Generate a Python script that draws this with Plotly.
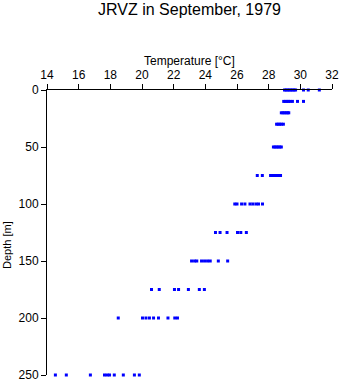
import plotly.graph_objects as go

# depth levels [m] and temperatures [°C] measured at each level
depth_levels = [0, 10, 20, 30, 50, 75, 100, 125, 150, 175, 200, 250]

temps_0 = [29.0, 29.1, 29.2, 29.3, 29.4, 29.5, 29.6, 29.7, 30.2, 30.5, 31.2]
temps_10 = [28.95, 29.05, 29.15, 29.25, 29.35, 29.5, 29.82, 30.2]
temps_20 = [28.8, 28.9, 29.0, 29.1, 29.2, 29.27]
temps_30 = [28.5, 28.6, 28.7, 28.8, 28.93]
temps_50 = [28.3, 28.4, 28.5, 28.6, 28.7, 28.8]
temps_75 = [27.28, 27.6, 28.12, 28.25, 28.4, 28.55, 28.65, 28.75]
temps_100 = [25.86, 26.0, 26.29, 26.5, 26.82, 27.0, 27.2, 27.36, 27.61]
temps_125 = [24.64, 24.93, 25.37, 26.03, 26.24, 26.59]
temps_150 = [23.13, 23.32, 23.46, 23.76, 23.95, 24.14, 24.31, 24.82, 25.41]
temps_175 = [20.6, 21.09, 22.05, 22.31, 22.93, 23.62, 23.94]
temps_200 = [18.5, 20.03, 20.25, 20.47, 20.73, 21.04, 21.64, 22.07, 22.24]
temps_250 = [14.53, 15.22, 16.74, 17.63, 17.8, 17.95, 18.25, 18.82, 19.52, 19.83]

temps_by_level = [temps_0, temps_10, temps_20, temps_30, temps_50, temps_75,
                  temps_100, temps_125, temps_150, temps_175, temps_200, temps_250]

x_ticks = [14, 16, 18, 20, 22, 24, 26, 28, 30, 32]
y_ticks = [0, 50, 100, 150, 200, 250]

xs, ys = [], []
for d, tl in zip(depth_levels, temps_by_level):
    xs.extend(tl)
    ys.extend([d] * len(tl))

FONT = "Liberation Sans, Arial, sans-serif"

fig = go.Figure()
fig.add_trace(go.Scatter(
    x=xs, y=ys, mode="markers",
    marker=dict(symbol="square", size=3, color="#0000ff", line=dict(width=0)),
    cliponaxis=False, showlegend=False, hoverinfo="skip",
))

fig.update_layout(
    width=341, height=384,
    margin=dict(l=47, r=9, t=90, b=9, pad=0, autoexpand=False),
    paper_bgcolor="white", plot_bgcolor="white",
    font=dict(family=FONT, size=12, color="black"),
    title=dict(text="JRVZ in September, 1979", x=0.5, xref="paper", xanchor="center",
               y=1 - 4 / 384, yanchor="top", font=dict(size=16, family=FONT)),
    xaxis=dict(
        side="top", range=[14, 32], tickvals=x_ticks, ticktext=[str(v) for v in x_ticks],
        ticks="outside", ticklen=5, tickwidth=1, tickcolor="black",
        showline=True, linecolor="black", linewidth=1, showgrid=False, zeroline=False,
        tickfont=dict(size=12), fixedrange=True, automargin=False,
    ),
    yaxis=dict(
        range=[250, 0], tickvals=y_ticks, ticktext=[str(v) for v in y_ticks],
        ticks="outside", ticklen=5, tickwidth=1, tickcolor="black",
        showline=True, linecolor="black", linewidth=1, showgrid=False, zeroline=False,
        tickfont=dict(size=12), fixedrange=True, automargin=False,
    ),
    annotations=[
        dict(text="Temperature [°C]", xref="paper", yref="paper",
             x=0.5, y=1 + 29 / 285, xanchor="center", yanchor="middle",
             showarrow=False, font=dict(size=12, family=FONT)),
        dict(text="Depth [m]", xref="paper", yref="paper",
             x=-40 / 285, y=(375 - 245) / 285, xanchor="center", yanchor="middle",
             textangle=-90, showarrow=False, font=dict(size=11, family=FONT)),
    ],
)

fig.write_html("out.html")
